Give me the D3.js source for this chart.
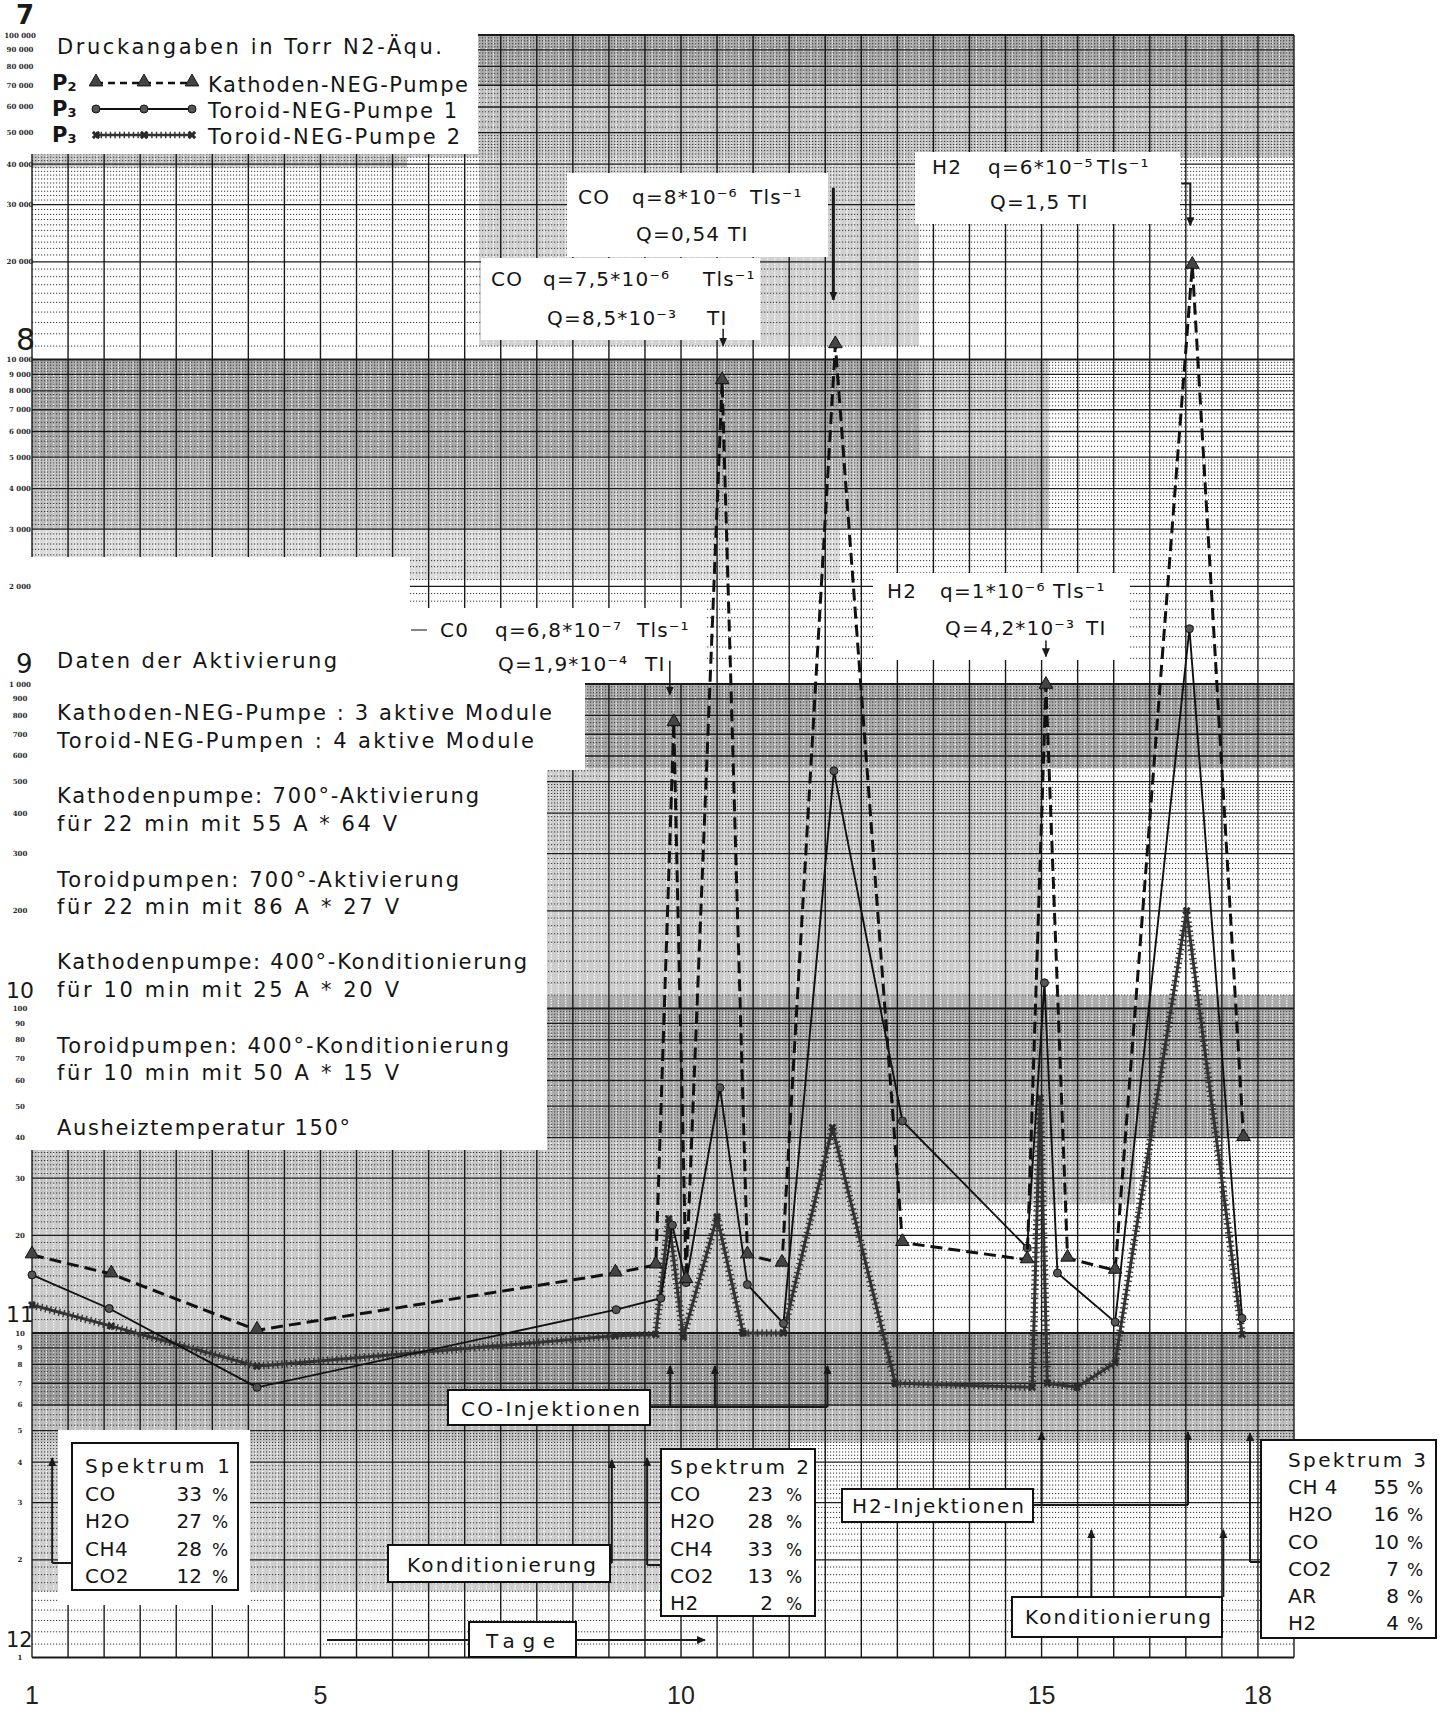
<!DOCTYPE html>
<html>
<head>
<meta charset="utf-8">
<script src="https://cdn.jsdelivr.net/npm/d3@7"></script>
<style>
  html, body { margin: 0; padding: 0; background: #fff; }
  svg { display: block; }
  text { font-family: "DejaVu Sans", sans-serif; fill: #151515; }
</style>
</head>
<body>
<svg id="chart" width="1442" height="1714"></svg>
<script>
// ---------------- data (pressure in Torr N2-equivalent, time in days) ----------------
const kathodenDays = [1.0, 2.1, 4.12, 9.09, 9.65, 9.9, 10.07, 10.57, 10.92, 11.4, 12.14, 13.07, 14.8, 15.06, 15.36, 16.02, 17.09, 17.8];
const kathodenP    = [1.74e-11, 1.52e-11, 1.02e-11, 1.53e-11, 1.62e-11, 7.6e-10, 1.46e-11, 8.6e-9, 1.74e-11, 1.64e-11, 1.11e-8, 1.9e-11, 1.68e-11, 9.9e-10, 1.7e-11, 1.56e-11, 1.95e-8, 4.0e-11];

const toroid1Days  = [1.0, 2.07, 4.12, 9.1, 9.72, 9.88, 10.07, 10.54, 10.92, 11.42, 12.12, 13.07, 14.8, 15.04, 15.22, 16.02, 17.05, 17.78];
const toroid1P     = [1.51e-11, 1.19e-11, 6.8e-12, 1.18e-11, 1.28e-11, 2.15e-11, 1.43e-11, 5.7e-11, 1.41e-11, 1.07e-11, 5.4e-10, 4.5e-11, 1.83e-11, 1.2e-10, 1.53e-11, 1.08e-11, 1.48e-9, 1.11e-11];

const toroid2Days  = [1.0, 2.1, 4.12, 9.09, 9.65, 9.83, 10.03, 10.5, 10.86, 11.42, 12.1, 12.97, 14.87, 14.98, 15.08, 15.49, 16.02, 17.01, 17.78];
const toroid2P     = [1.22e-11, 1.05e-11, 7.9e-12, 9.8e-12, 9.9e-12, 2.25e-11, 9.7e-12, 2.28e-11, 1.0e-11, 1.0e-11, 4.3e-11, 7.0e-12, 6.8e-12, 5.3e-11, 7.0e-12, 6.8e-12, 8.1e-12, 2.0e-10, 9.9e-12];

const dayTicks     = [1, 5, 10, 15, 18];
const decadeExps   = [7, 8, 9, 10, 11, 12];          // pressure = 10^-n Torr

// event days marked at the bottom of the sheet
const coInjectionDays   = [9.85, 10.47, 12.03];
const h2InjectionDays   = [15.0, 17.03];
const conditioningDays1 = [9.04];
const conditioningDays2 = [15.69, 17.52];
const spectrumDays      = [1.28, 9.53, 17.89];

const spectrum1 = [["CO", 33], ["H2O", 27], ["CH4", 28], ["CO2", 12]];
const spectrum2 = [["CO", 23], ["H2O", 28], ["CH4", 33], ["CO2", 13], ["H2", 2]];
const spectrum3 = [["CH 4", 55], ["H2O", 16], ["CO", 10], ["CO2", 7], ["AR", 8], ["H2", 4]];

const activationNotes = [
  "Daten der Aktivierung",
  "Kathoden-NEG-Pumpe : 3 aktive Module",
  "Toroid-NEG-Pumpen : 4 aktive Module",
  "Kathodenpumpe: 700°-Aktivierung",
  "für 22 min mit 55 A * 64 V",
  "Toroidpumpen: 700°-Aktivierung",
  "für 22 min mit 86 A * 27 V",
  "Kathodenpumpe: 400°-Konditionierung",
  "für 10 min mit 25 A * 20 V",
  "Toroidpumpen: 400°-Konditionierung",
  "für 10 min mit 50 A * 15 V",
  "Ausheiztemperatur 150°"
];

// ---------------- scales ----------------
const x = d3.scaleLinear().domain([1, 18.5]).range([32, 1294]);
const y = d3.scaleLog().domain([1e-7, 1e-12]).range([35, 1657.5]);

const svg = d3.select("#chart");
const defs = svg.append("defs");
defs.append("marker").attr("id", "ah")
  .attr("viewBox", "0 0 10 10").attr("refX", 9).attr("refY", 5)
  .attr("markerWidth", 9).attr("markerHeight", 9).attr("markerUnits", "userSpaceOnUse")
  .attr("orient", "auto")
  .append("path").attr("d", "M0,0.5 L10,5 L0,9.5 z").attr("fill", "#1a1a1a");

// ---------------- log paper ----------------
const grid = svg.append("g");
const X0 = x(1), X1 = x(18.5);

// finely ruled (shaded) parts of the sheet: day range, pressure range, tone
const rulingBands = [
  { d: [6.2, 18.5], v: [7e-8, 1e-7],       tone: "#a9a9a9" },
  { d: [6.2, 18.5], v: [4.2e-8, 7e-8],     tone: "#c4c4c4" },
  { d: [1, 6.2],    v: [3.9e-8, 4.4e-8],   tone: "#c4c4c4" },
  { d: [7.2, 13.3], v: [1.1e-8, 4.2e-8],   tone: "#d2d2d2" },
  { d: [1, 13.3],   v: [5e-9, 1e-8],       tone: "#a8a8a8" },
  { d: [13.3, 15.1],v: [5e-9, 1e-8],       tone: "#cfcfcf" },
  { d: [1, 15.1],   v: [3e-9, 5e-9],       tone: "#c0c0c0" },
  { d: [1, 12.2],   v: [2.1e-9, 3e-9],     tone: "#dcdcdc" },
  { d: [8.67, 18.5],v: [5.5e-10, 1e-9],    tone: "#a8a8a8" },
  { d: [8.14, 15.0],v: [1.1e-10, 5.5e-10], tone: "#cdcdcd" },
  { d: [8.14, 18.5],v: [4e-11, 1.1e-10],   tone: "#acacac" },
  { d: [1, 16.3],   v: [2.5e-11, 4e-11],   tone: "#c6c6c6" },
  { d: [1, 13.0],   v: [1e-11, 2.5e-11],   tone: "#cbcbcb" },
  { d: [1, 18.5],   v: [6e-12, 1e-11],     tone: "#9c9c9c" },
  { d: [1, 18.5],   v: [4.6e-12, 6e-12],   tone: "#bdbdbd" },
  { d: [1, 11.5],   v: [1.6e-12, 4.6e-12], tone: "#cfcfcf" }
];

rulingBands.forEach(b => {
  grid.append("rect")
    .attr("x", x(b.d[0])).attr("y", y(b.v[1]))
    .attr("width", x(b.d[1]) - x(b.d[0])).attr("height", y(b.v[0]) - y(b.v[1]))
    .attr("fill", b.tone);
  const minorDays = d3.range(10, 186).filter(t => t % 5 !== 0).map(t => t / 10)
    .filter(d => d > b.d[0] && d < b.d[1]);
  grid.append("g").selectAll("line").data(minorDays).join("line")
    .attr("x1", d => x(d)).attr("x2", d => x(d))
    .attr("y1", y(b.v[1])).attr("y2", y(b.v[0]))
    .attr("stroke", "#fff").attr("stroke-width", 1.3).attr("stroke-dasharray", "1.2,1.4");
});

// minor horizontal rulings: 1-5 by 0.1, 5-10 by 0.2 in every decade
const minorH = [];
for (let e = -12; e <= -8; e++) {
  for (let k = 11; k < 100; k++) {
    if (k % 10 === 0) continue;
    if (k >= 50 && k % 2 !== 0) continue;
    minorH.push(k / 10 * Math.pow(10, e));
  }
}
grid.append("g").selectAll("line").data(minorH).join("line")
  .attr("x1", X0).attr("x2", X1)
  .attr("y1", d => y(d)).attr("y2", d => y(d))
  .attr("stroke", "#333").attr("stroke-width", 1).attr("stroke-dasharray", "1.2,1.8");

// major horizontal rulings
const majorH = [1e-7];
for (let e = -12; e <= -8; e++) for (let m = 1; m <= 9; m++) majorH.push(m * Math.pow(10, e));
grid.append("g").selectAll("line").data(majorH).join("line")
  .attr("x1", X0).attr("x2", X1)
  .attr("y1", d => y(d)).attr("y2", d => y(d))
  .attr("stroke", "#1a1a1a")
  .attr("stroke-width", d => Math.abs(Math.log10(d) - Math.round(Math.log10(d))) < 1e-6 ? 2 : 1.3);

// vertical rulings every half day
grid.append("g").selectAll("line").data(d3.range(1, 18.51, 0.5)).join("line")
  .attr("x1", d => x(d)).attr("x2", d => x(d))
  .attr("y1", y(1e-7)).attr("y2", y(1e-12))
  .attr("stroke", "#1a1a1a").attr("stroke-width", 1.4);

// pasted-over blank areas of the sheet
const blankAreas = [
  [0, 0, 478, 154], [0, 557, 410, 1150], [0, 608, 547, 1150], [0, 683, 585, 770],
  [410, 608, 705, 683], [567, 173, 828, 257], [481, 258, 760, 340],
  [915, 152, 1180, 224], [873, 573, 1130, 660], [58, 1430, 250, 1605]
];
svg.append("g").selectAll("rect").data(blankAreas).join("rect")
  .attr("x", d => d[0]).attr("y", d => d[1])
  .attr("width", d => d[2] - d[0]).attr("height", d => d[3] - d[1])
  .attr("fill", "#fff");

// ---------------- axis labels ----------------
const fmtPaper = v => d3.format(",")(Math.round(v)).replace(/,/g, " ");
const paperTicks = [];
for (let e = -12; e <= -8; e++) for (let m = 1; m <= 9; m++) paperTicks.push(m * Math.pow(10, e));
paperTicks.push(1e-7);
svg.append("g").selectAll("text").data(paperTicks).join("text")
  .attr("x", 20).attr("y", d => y(d) + 2.5)
  .attr("text-anchor", "middle")
  .style("font-family", "'DejaVu Serif', serif").style("font-weight", "bold")
  .style("font-size", "7px").style("fill", "#2a2a2a")
  .text(d => fmtPaper(d * 1e12));

const bigLabelSize = { 7: 26, 8: 30, 9: 26, 10: 22, 11: 22, 12: 21 };
svg.append("g").selectAll("text").data(decadeExps).join("text")
  .attr("x", n => n >= 10 ? 6 : 16)
  .attr("y", n => y(Math.pow(10, -n)) - (n === 8 ? 10 : 11))
  .style("font-size", n => bigLabelSize[n] + "px").style("fill", "#1a1a1a")
  .style("font-weight", n => n === 7 ? "bold" : "normal")
  .text(n => n);

svg.append("g").selectAll("text").data(dayTicks).join("text")
  .attr("x", d => x(d)).attr("y", 1704)
  .attr("text-anchor", "middle")
  .style("font-family", "'Liberation Sans', sans-serif")
  .style("font-size", "25px").style("fill", "#222")
  .text(d => d);

// ---------------- curves ----------------
const lineGen = d3.line().x(d => x(d[0])).y(d => y(d[1]));
const kathoden = kathodenDays.map((d, i) => [d, kathodenP[i]]);
const toroid1  = toroid1Days.map((d, i) => [d, toroid1P[i]]);
const toroid2  = toroid2Days.map((d, i) => [d, toroid2P[i]]);

const curves = svg.append("g");

// Toroid-NEG-Pumpe 2: heavy line with hatch teeth
curves.append("path").attr("d", lineGen(toroid2))
  .attr("fill", "none").attr("stroke", "#333").attr("stroke-width", 3).attr("stroke-linejoin", "round");
curves.append("path").attr("d", lineGen(toroid2))
  .attr("fill", "none").attr("stroke", "#333").attr("stroke-width", 7.5)
  .attr("stroke-dasharray", "1.4,3.2");
curves.append("g").selectAll("path").data(toroid2).join("path")
  .attr("transform", d => `translate(${x(d[0])},${y(d[1])}) rotate(45)`)
  .attr("d", d3.symbol(d3.symbolCross, 40))
  .attr("fill", "#2a2a2a");

// Toroid-NEG-Pumpe 1: thin solid line with dots
curves.append("path").attr("d", lineGen(toroid1))
  .attr("fill", "none").attr("stroke", "#111").attr("stroke-width", 1.9);
curves.append("g").selectAll("circle").data(toroid1).join("circle")
  .attr("cx", d => x(d[0])).attr("cy", d => y(d[1])).attr("r", 4)
  .attr("fill", "#555").attr("stroke", "#111").attr("stroke-width", 1);

// Kathoden-NEG-Pumpe: dashed heavy line with triangles
curves.append("path").attr("d", lineGen(kathoden))
  .attr("fill", "none").attr("stroke", "#111").attr("stroke-width", 3)
  .attr("stroke-dasharray", "12,6");
curves.append("g").selectAll("path").data(kathoden).join("path")
  .attr("transform", d => `translate(${x(d[0])},${y(d[1]) - 1})`)
  .attr("d", d3.symbol(d3.symbolTriangle, 80))
  .attr("fill", "#444").attr("stroke", "#111").attr("stroke-width", 1);

// ---------------- legend ----------------
const leg = svg.append("g");
leg.append("text").attr("x", 57).attr("y", 54)
  .attr("textLength", 385).attr("lengthAdjust", "spacing")
  .style("font-size", "21px").text("Druckangaben in Torr N2-Äqu.");

const legendRows = [
  { sub: "2", label: "Kathoden-NEG-Pumpe", yy: 83, len: 260 },
  { sub: "3", label: "Toroid-NEG-Pumpe 1", yy: 109, len: 249 },
  { sub: "3", label: "Toroid-NEG-Pumpe 2", yy: 135, len: 252 }
];
legendRows.forEach((r, i) => {
  const t = leg.append("text").attr("x", 52).attr("y", r.yy + 7)
    .style("font-size", "21px").style("font-weight", "bold");
  t.append("tspan").text("P");
  t.append("tspan").style("font-size", "13px").attr("dy", 1).text(r.sub);
  leg.append("text").attr("x", 208).attr("y", r.yy + 9)
    .attr("textLength", r.len).attr("lengthAdjust", "spacing")
    .style("font-size", "21px").text(r.label);
  const sx = [96, 144, 192];
  if (i === 0) {
    leg.append("line").attr("x1", 96).attr("x2", 192).attr("y1", r.yy).attr("y2", r.yy)
      .attr("stroke", "#111").attr("stroke-width", 2.6).attr("stroke-dasharray", "7,5");
    sx.forEach(s => leg.append("path").attr("transform", `translate(${s},${r.yy - 1})`)
      .attr("d", d3.symbol(d3.symbolTriangle, 80)).attr("fill", "#444").attr("stroke", "#111"));
  } else if (i === 1) {
    leg.append("line").attr("x1", 96).attr("x2", 192).attr("y1", r.yy).attr("y2", r.yy)
      .attr("stroke", "#111").attr("stroke-width", 1.9);
    sx.forEach(s => leg.append("circle").attr("cx", s).attr("cy", r.yy).attr("r", 4)
      .attr("fill", "#555").attr("stroke", "#111"));
  } else {
    leg.append("line").attr("x1", 96).attr("x2", 192).attr("y1", r.yy).attr("y2", r.yy)
      .attr("stroke", "#333").attr("stroke-width", 2.6);
    leg.append("line").attr("x1", 96).attr("x2", 192).attr("y1", r.yy).attr("y2", r.yy)
      .attr("stroke", "#333").attr("stroke-width", 6.5).attr("stroke-dasharray", "1.4,3.2");
    sx.forEach(s => leg.append("path").attr("transform", `translate(${s},${r.yy}) rotate(45)`)
      .attr("d", d3.symbol(d3.symbolCross, 44)).attr("fill", "#2a2a2a"));
  }
});

// ---------------- activation notes ----------------
const noteY = [668, 720, 748, 803, 831, 887, 914, 969, 997, 1053, 1080, 1135];
const noteLen = [280, 495, 477, 422, 340, 402, 342, 470, 342, 452, 342, 293];
svg.append("g").selectAll("text").data(activationNotes).join("text")
  .attr("x", 57).attr("y", (d, i) => noteY[i])
  .attr("textLength", (d, i) => noteLen[i]).attr("lengthAdjust", "spacing")
  .style("font-size", "21px").text(d => d);

// ---------------- injection labels at the peaks ----------------
const ann = svg.append("g").style("font-size", "20px").style("letter-spacing", "1.2px");
const label = (parts, yy) => parts.forEach(p => ann.append("text").attr("x", p[0]).attr("y", yy).text(p[1]));

label([[578, "CO"], [632, "q=8*10⁻⁶"], [750, "Tls⁻¹"]], 204);
label([[636, "Q=0,54"], [728, "TI"]], 241);
label([[491, "CO"], [543, "q=7,5*10⁻⁶"], [703, "Tls⁻¹"]], 286);
label([[547, "Q=8,5*10⁻³"], [707, "TI"]], 325);
label([[932, "H2"], [988, "q=6*10⁻⁵"], [1097, "Tls⁻¹"]], 174);
label([[990, "Q=1,5"], [1068, "TI"]], 209);
label([[887, "H2"], [940, "q=1*10⁻⁶"], [1053, "Tls⁻¹"]], 598);
label([[945, "Q=4,2*10⁻³"], [1086, "TI"]], 635);
label([[440, "C0"], [495, "q=6,8*10⁻⁷"], [637, "Tls⁻¹"]], 637);
label([[498, "Q=1,9*10⁻⁴"], [645, "TI"]], 671);
ann.append("line").attr("x1", 411).attr("x2", 427).attr("y1", 630).attr("y2", 630)
  .attr("stroke", "#333").attr("stroke-width", 1.2);

// arrows from the labels down to the peaks they describe
const arrows = svg.append("g").attr("stroke", "#1a1a1a").attr("fill", "none");
const peakArrow = (idx, top, bottom, dx, w) => {
  const px = x(kathodenDays[idx]) + dx, py = y(kathodenP[idx]);
  arrows.append("line").attr("x1", px).attr("x2", px).attr("y1", py + top).attr("y2", py + bottom)
    .attr("stroke-width", w).attr("marker-end", "url(#ah)");
};
peakArrow(5, -62, -28, -4, 1.5);
peakArrow(7, -52, -35, 1, 1.5);
peakArrow(10, -157, -45, -2, 3);
peakArrow(13, -45, -29, 0, 1.5);
{
  const px = x(kathodenDays[16]) - 2, py = y(kathodenP[16]);
  arrows.append("polyline")
    .attr("points", `${px - 9},${py - 82} ${px},${py - 82} ${px},${py - 40}`)
    .attr("stroke-width", 2).attr("marker-end", "url(#ah)");
}

// ---------------- boxed captions and event markers at the bottom ----------------
const boxes = svg.append("g");
const box = (x0, y0, x1, y1) => boxes.append("rect")
  .attr("x", x0).attr("y", y0).attr("width", x1 - x0).attr("height", y1 - y0)
  .attr("fill", "#fff").attr("stroke", "#111").attr("stroke-width", 2);
const boxText = (t, xx, yy, len) => boxes.append("text").attr("x", xx).attr("y", yy)
  .attr("textLength", len).attr("lengthAdjust", "spacing").style("font-size", "20px").text(t);

const ev = svg.append("g").attr("stroke", "#1a1a1a").attr("fill", "none").attr("stroke-width", 2);
const upArrow = (xx, yBase, yTip) => ev.append("line")
  .attr("x1", xx).attr("x2", xx).attr("y1", yBase).attr("y2", yTip).attr("marker-end", "url(#ah)");

// CO injections
box(448, 1390, 650, 1425); boxText("CO-Injektionen", 461, 1416, 179);
ev.append("line").attr("x1", 650).attr("x2", x(d3.max(coInjectionDays))).attr("y1", 1407).attr("y2", 1407);
coInjectionDays.forEach(d => upArrow(x(d), 1407, 1366));

// H2 injections
box(842, 1489, 1033, 1522); boxText("H2-Injektionen", 852, 1513, 172);
ev.append("line").attr("x1", 1033).attr("x2", x(d3.max(h2InjectionDays))).attr("y1", 1505).attr("y2", 1505);
h2InjectionDays.forEach(d => upArrow(x(d), 1505, 1432));

// conditioning
box(388, 1545, 610, 1582); boxText("Konditionierung", 407, 1572, 189);
conditioningDays1.forEach(d => {
  ev.append("line").attr("x1", 610).attr("x2", x(d)).attr("y1", 1563).attr("y2", 1563);
  upArrow(x(d), 1563, 1460);
});
box(1012, 1597, 1222, 1637); boxText("Konditionierung", 1025, 1624, 186);
conditioningDays2.forEach(d => upArrow(x(d), 1597, 1530));

// spectra
const spectrumTable = (rows, title, bx, tx, numX, pctX, y0, dy, titleLen) => {
  box(bx[0], bx[1], bx[2], bx[3]);
  boxText(title, tx, y0, titleLen);
  rows.forEach((r, i) => {
    const yy = y0 + (i + 1) * dy;
    boxes.append("text").attr("x", tx).attr("y", yy).style("font-size", "20px")
      .style("letter-spacing", "0.5px").text(r[0]);
    boxes.append("text").attr("x", numX).attr("y", yy).attr("text-anchor", "end")
      .style("font-size", "20px").text(r[1]);
    boxes.append("text").attr("x", pctX).attr("y", yy).style("font-size", "17px").text("%");
  });
};
spectrumTable(spectrum1, "Spektrum 1", [72, 1443, 238, 1590], 85, 202, 212, 1473, 27.5, 145);
spectrumTable(spectrum2, "Spektrum 2", [661, 1449, 815, 1616], 670, 773, 786, 1474, 27.2, 139);
spectrumTable(spectrum3, "Spektrum 3", [1261, 1440, 1436, 1638], 1288, 1399, 1407, 1467, 27.2, 138);

const specLinks = [[72, 1563], [661, 1565], [1261, 1562]];
spectrumDays.forEach((d, i) => {
  ev.append("line").attr("x1", specLinks[i][0]).attr("x2", x(d))
    .attr("y1", specLinks[i][1]).attr("y2", specLinks[i][1]);
  upArrow(x(d), specLinks[i][1], 1458 - (i === 2 ? 25 : 0));
});

// time axis caption
box(469, 1622, 576, 1657); boxText("Tage", 486, 1648, 69);
ev.append("line").attr("x1", 327).attr("x2", 469).attr("y1", 1640).attr("y2", 1640).attr("stroke-width", 1.8);
ev.append("line").attr("x1", 576).attr("x2", 705).attr("y1", 1640).attr("y2", 1640)
  .attr("stroke-width", 1.8).attr("marker-end", "url(#ah)");
</script>
</body>
</html>
